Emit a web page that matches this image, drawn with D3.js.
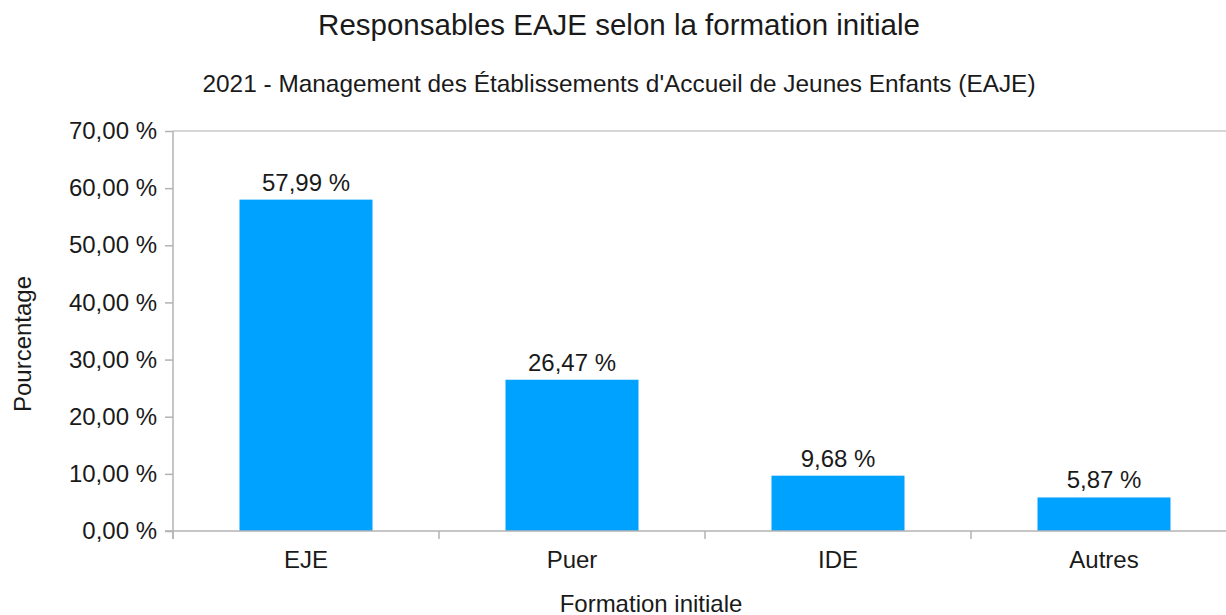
<!DOCTYPE html>
<html>
<head>
<meta charset="utf-8">
<script src="https://cdn.jsdelivr.net/npm/d3@7"></script>
<style>
  body { margin: 0; background: #fff; }
  text { font-family: "Liberation Sans", Arial, sans-serif; fill: #1a1a1a; }
</style>
</head>
<body>
<script>
// data
var categories = ["EJE", "Puer", "IDE", "Autres"];
var values = [57.99, 26.47, 9.68, 5.87];
var yTicks = [0, 10, 20, 30, 40, 50, 60, 70];

var w = 1226, h = 615;
var plotLeft = 173, plotRight = 1237, plotTop = 131, plotBottom = 531;

var svg = d3.select("body").append("svg")
    .attr("width", w)
    .attr("height", h);

var xScale = d3.scaleBand()
    .domain(categories)
    .range([plotLeft, plotRight])
    .paddingInner(0.5)
    .paddingOuter(0.25);

var yScale = d3.scaleLinear()
    .domain([0, 70])
    .range([plotBottom, plotTop]);

function fmt(v) {
    return v.toFixed(2).replace(".", ",") + " %";
}

// top gridline only
svg.append("line")
    .attr("x1", plotLeft).attr("x2", plotRight)
    .attr("y1", yScale(70)).attr("y2", yScale(70))
    .attr("stroke", "#c8c8c8").attr("stroke-width", 1.5);

// bars
svg.selectAll("rect.bar")
    .data(values)
    .enter()
    .append("rect")
    .attr("class", "bar")
    .attr("x", function(d, i) { return xScale(categories[i]); })
    .attr("y", function(d) { return yScale(d); })
    .attr("width", xScale.bandwidth())
    .attr("height", function(d) { return yScale(0) - yScale(d); })
    .attr("fill", "#00a2ff");

// value labels
svg.selectAll("text.val")
    .data(values)
    .enter()
    .append("text")
    .attr("class", "val")
    .attr("x", function(d, i) { return xScale(categories[i]) + xScale.bandwidth() / 2; })
    .attr("y", function(d) { return yScale(d) - 9; })
    .attr("text-anchor", "middle")
    .attr("font-size", "24px")
    .text(function(d) { return fmt(d); });

// y axis
var yAxis = d3.axisLeft(yScale)
    .tickValues(yTicks)
    .tickSize(8)
    .tickPadding(8)
    .tickFormat(function(d) { return fmt(d); });

var gy = svg.append("g")
    .attr("transform", "translate(" + plotLeft + ",0)")
    .call(yAxis);
gy.select(".domain").attr("stroke", "#b3b3b3").attr("stroke-width", 1.5)
    .attr("d", "M0," + (plotBottom + 8) + "V" + plotTop);
gy.selectAll(".tick line").attr("stroke", "#b3b3b3").attr("stroke-width", 1.5);
gy.selectAll(".tick text")
    .attr("font-size", "24px")
    .attr("font-family", null)
    .attr("fill", "#1a1a1a");
gy.attr("font-family", null).attr("font-size", null);

// x axis: ticks at band boundaries
var step = xScale.step();
var bounds = d3.range(categories.length + 1).map(function(i) { return plotLeft + i * step; });

var gx = svg.append("g");
gx.append("line")
    .attr("x1", plotLeft - 8).attr("x2", plotRight)
    .attr("y1", plotBottom).attr("y2", plotBottom)
    .attr("stroke", "#b3b3b3").attr("stroke-width", 1.5);
gx.selectAll("line.xt")
    .data(bounds)
    .enter()
    .append("line")
    .attr("class", "xt")
    .attr("x1", function(d) { return d; }).attr("x2", function(d) { return d; })
    .attr("y1", plotBottom).attr("y2", plotBottom + 8)
    .attr("stroke", "#b3b3b3").attr("stroke-width", 1.5);
gx.selectAll("text.xl")
    .data(categories)
    .enter()
    .append("text")
    .attr("class", "xl")
    .attr("x", function(d) { return xScale(d) + xScale.bandwidth() / 2; })
    .attr("y", 568)
    .attr("text-anchor", "middle")
    .attr("font-size", "24px")
    .text(function(d) { return d; });

// titles
svg.append("text")
    .attr("x", 619).attr("y", 35)
    .attr("text-anchor", "middle")
    .attr("font-size", "29.5px")
    .text("Responsables EAJE selon la formation initiale");

svg.append("text")
    .attr("x", 619).attr("y", 92)
    .attr("text-anchor", "middle")
    .attr("font-size", "24.4px")
    .text("2021 - Management des Établissements d'Accueil de Jeunes Enfants (EAJE)");

svg.append("text")
    .attr("x", 651).attr("y", 612)
    .attr("text-anchor", "middle")
    .attr("font-size", "24px")
    .text("Formation initiale");

svg.append("text")
    .attr("transform", "translate(31,344) rotate(-90)")
    .attr("text-anchor", "middle")
    .attr("font-size", "24px")
    .text("Pourcentage");
</script>
</body>
</html>
